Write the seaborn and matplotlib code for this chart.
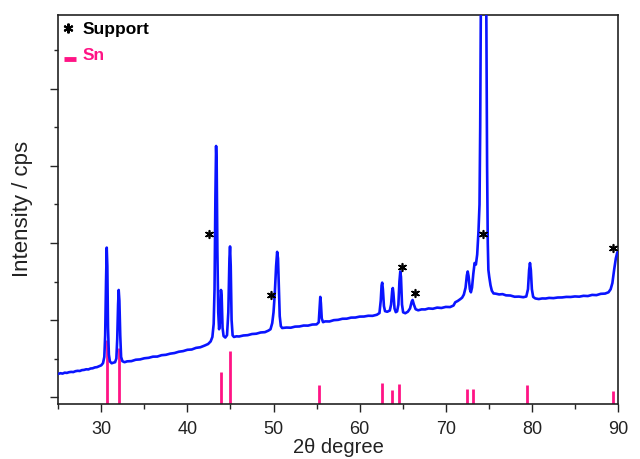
import matplotlib
matplotlib.use("Agg")
import matplotlib.pyplot as plt
from matplotlib.ticker import MultipleLocator, FixedLocator, NullFormatter
import seaborn as sns
import pandas as pd

# ---- data ----
two_theta = [25.0, 25.25, 25.5, 25.75, 26.0, 26.25, 26.5, 26.75, 27.0, 27.25, 27.5, 27.75,
             28.0, 28.25, 28.5, 28.75, 29.0, 29.25, 29.5, 29.75, 30.0, 30.2, 30.35, 30.45,
             30.55, 30.63, 30.7, 30.78, 30.88, 31.0, 31.2, 31.4, 31.6, 31.75, 31.85, 31.95,
             32.02, 32.1, 32.2, 32.3, 32.45, 32.7, 33.0, 33.5, 34.0, 34.5, 35.0, 35.5,
             36.0, 36.5, 37.0, 37.5, 38.0, 38.5, 39.0, 39.5, 40.0, 40.5, 41.0, 41.5,
             42.0, 42.4, 42.7, 42.9, 43.05, 43.15, 43.25, 43.33, 43.4, 43.48, 43.58, 43.68,
             43.8, 43.9, 43.98, 44.08, 44.2, 44.4, 44.6, 44.75, 44.88, 44.95, 45.03, 45.13,
             45.25, 45.4, 45.7, 46.0, 46.5, 47.0, 47.5, 48.0, 48.5, 49.0, 49.4, 49.65,
             49.85, 50.0, 50.15, 50.3, 50.42, 50.52, 50.62, 50.72, 50.85, 51.0, 51.5, 52.0,
             52.5, 53.0, 53.5, 54.0, 54.5, 55.0, 55.25, 55.35, 55.43, 55.5, 55.6, 55.75,
             56.0, 56.5, 57.0, 57.5, 58.0, 58.5, 59.0, 59.5, 60.0, 60.5, 61.0, 61.5,
             62.0, 62.3, 62.45, 62.55, 62.62, 62.7, 62.82, 62.95, 63.2, 63.5, 63.65, 63.78,
             63.85, 63.92, 64.05, 64.2, 64.35, 64.5, 64.62, 64.72, 64.8, 64.92, 65.05, 65.3,
             65.6, 65.85, 66.05, 66.15, 66.3, 66.5, 66.8, 67.2, 67.6, 68.0, 68.5, 69.0,
             69.5, 70.0, 70.5, 70.9, 71.1, 71.4, 71.7, 71.9, 72.1, 72.3, 72.45, 72.55,
             72.65, 72.8, 72.92, 73.05, 73.2, 73.35, 73.5, 73.65, 73.8, 73.92, 74.0, 74.08,
             74.2, 74.35, 74.5, 74.62, 74.72, 74.8, 74.88, 74.95, 75.05, 75.2, 75.35, 75.55,
             75.8, 76.2, 76.6, 77.0, 77.5, 78.0, 78.5, 79.0, 79.35, 79.55, 79.68, 79.78,
             79.88, 80.0, 80.15, 80.4, 80.8, 81.2, 81.6, 82.0, 82.5, 83.0, 83.5, 84.0,
             84.5, 85.0, 85.5, 86.0, 86.5, 87.0, 87.5, 88.0, 88.5, 88.9, 89.15, 89.35,
             89.55, 89.75, 89.9, 90.0]
intensity = [300, 309, 304, 316, 313, 322, 326, 324, 335, 340, 338, 349,
             352, 360, 358, 370, 373, 384, 388, 400, 412, 440, 520, 800,
             1500, 1940, 1700, 900, 550, 462, 438, 446, 452, 500, 750, 1200,
             1390, 1250, 800, 520, 465, 452, 463, 466, 484, 488, 503, 509,
             524, 525, 543, 548, 563, 571, 588, 596, 613, 617, 638, 646,
             668, 688, 722, 780, 950, 1400, 2600, 3260, 3000, 1900, 1100, 880,
             1000, 1390, 1300, 900, 792, 772, 803, 1100, 1800, 1955, 1700, 1000,
             800, 780, 788, 786, 799, 803, 818, 822, 838, 842, 862, 880,
             960, 1100, 1350, 1700, 1885, 1800, 1400, 1050, 920, 896, 902, 900,
             914, 916, 928, 927, 941, 943, 970, 1150, 1300, 1220, 1020, 972,
             982, 981, 998, 1002, 1016, 1017, 1031, 1032, 1044, 1045, 1055, 1054,
             1068, 1090, 1250, 1450, 1485, 1400, 1180, 1115, 1107, 1123, 1200, 1380,
             1415, 1350, 1150, 1102, 1112, 1200, 1500, 1630, 1560, 1200, 1100, 1088,
             1108, 1150, 1240, 1260, 1200, 1140, 1126, 1138, 1137, 1150, 1146, 1161,
             1156, 1170, 1168, 1188, 1230, 1248, 1272, 1290, 1330, 1420, 1580, 1630,
             1570, 1400, 1360, 1420, 1600, 1740, 1720, 1850, 2150, 2500, 3500, 5200,
             7000, 7800, 7600, 6500, 4800, 3000, 2000, 1650, 1560, 1450, 1380, 1345,
             1342, 1332, 1336, 1320, 1318, 1302, 1304, 1296, 1305, 1400, 1650, 1740,
             1650, 1400, 1300, 1280, 1272, 1280, 1279, 1287, 1284, 1292, 1293, 1300,
             1299, 1306, 1303, 1314, 1311, 1326, 1323, 1340, 1343, 1360, 1400, 1480,
             1650, 1800, 1870, 1890]

sn_positions = [30.64, 32.02, 43.87, 44.90, 55.33, 62.54, 63.78, 64.58, 72.41, 73.19, 79.48, 89.40]
sn_heights = [740, 640, 330, 600, 150, 185, 90, 165, 105, 105, 150, 80]

support_x = [42.52, 49.73, 64.96, 66.48, 74.38, 89.38]
support_y = [2120, 1326, 1690, 1352, 2119, 1937]

x_ticks = [30, 40, 50, 60, 70, 80, 90]
x_label = "2θ degree"
y_label = "Intensity / cps"
legend_labels = ["Support", "Sn"]

# ---- style ----
sns.set_theme(style="white")
plt.rcParams['font.family'] = ['Liberation Sans', 'DejaVu Sans']

BLUE = "#0a14ff"
PINK = "#ff1485"
Y_MIN, Y_MAX = -91, 4965

fig = plt.figure(figsize=(6.4, 4.59), dpi=100)
ax = fig.add_axes([0.091, 0.1198, 0.8746, 0.8482])

# Sn reference lines (behind the pattern)
ax.vlines(sn_positions, Y_MIN, [Y_MIN + h + 91 for h in sn_heights], colors=PINK,
          linewidth=2.0, zorder=2)

df = pd.DataFrame({"two_theta": two_theta, "intensity": intensity})
sns.lineplot(data=df, x="two_theta", y="intensity", ax=ax, color=BLUE,
             linewidth=1.9, estimator=None, sort=False, zorder=3)

sdf = pd.DataFrame({"x": support_x, "y": support_y})
sns.scatterplot(data=sdf, x="x", y="y", ax=ax, marker=(6, 2, 0), s=30,
                color="black", linewidth=1.2, edgecolor="black", zorder=4)

ax.set_xlim(25, 90)
ax.set_ylim(Y_MIN, Y_MAX)

ax.xaxis.set_major_locator(FixedLocator(x_ticks))
ax.xaxis.set_minor_locator(MultipleLocator(5))
ax.yaxis.set_major_locator(FixedLocator([0, 1000, 2000, 3000, 4000]))
ax.yaxis.set_minor_locator(FixedLocator([500, 1500, 2500, 3500, 4500]))
ax.yaxis.set_major_formatter(NullFormatter())

ax.tick_params(axis="x", which="major", direction="out", length=6, width=1.0,
               labelsize=13, colors="#222222", pad=6, bottom=True)
ax.tick_params(axis="x", which="minor", direction="out", length=3.5, width=1.0, bottom=True)
ax.tick_params(axis="y", which="major", direction="out", length=6, width=1.0, left=True)
ax.tick_params(axis="y", which="minor", direction="out", length=3, width=1.0, left=True)

for sp in ax.spines.values():
    sp.set_color("#222222")
    sp.set_linewidth(1.2)

ax.set_xlabel(x_label, fontsize=14.5, color="#222222", labelpad=0)
ax.set_ylabel(y_label, fontsize=16, color="#222222", labelpad=9)

# legend (drawn in axes coordinates)
ax.plot([0.0175], [0.965], transform=ax.transAxes, marker=(6, 2, 0), markersize=7,
        color="black", markeredgewidth=1.5, linestyle="none", clip_on=False)
ax.text(0.044, 0.963, legend_labels[0], transform=ax.transAxes, fontsize=12.5,
        fontweight="bold", color="black", va="center", ha="left")
ax.plot([0.011, 0.032], [0.886, 0.886], transform=ax.transAxes, color=PINK,
        linewidth=3.5, solid_capstyle="butt")
ax.text(0.044, 0.895, legend_labels[1], transform=ax.transAxes, fontsize=12.5,
        fontweight="bold", color=PINK, va="center", ha="left")

fig.savefig("out.png", dpi=100)
